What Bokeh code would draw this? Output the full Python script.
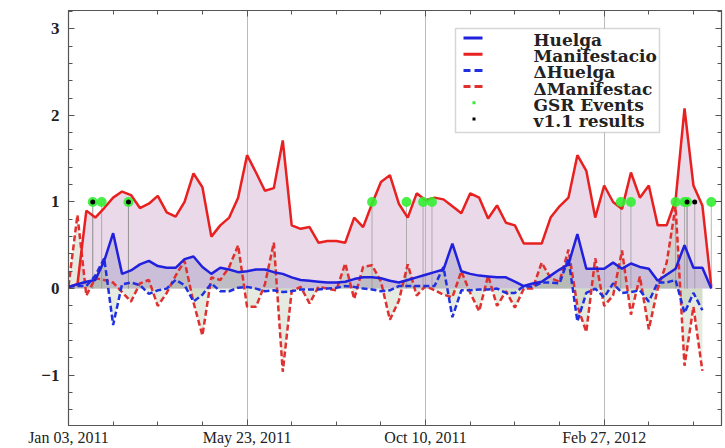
import numpy as np
import pandas as pd
from bokeh.plotting import figure
from bokeh.models import (Range1d, FixedTicker, DatetimeTickFormatter, DatetimeAxis,
                          LinearAxis, ColumnDataSource, CustomLabelingPolicy,
                          BoxAnnotation, Label)
from bokeh.embed import file_html
from bokeh.resources import INLINE

# Weekly intensity of "Huelga" and "Manifestacion" tweets (Jan 2011 - May 2012)
huelga = [0.02, 0.05, 0.08, 0.10, 0.32, 0.64, 0.17, 0.21, 0.28, 0.32,
          0.26, 0.24, 0.24, 0.34, 0.37, 0.25, 0.17, 0.24, 0.22, 0.19,
          0.20, 0.22, 0.22, 0.19, 0.17, 0.13, 0.10, 0.09, 0.08, 0.07,
          0.07, 0.08, 0.11, 0.13, 0.13, 0.12, 0.09, 0.07, 0.10, 0.13,
          0.16, 0.19, 0.22, 0.52, 0.20, 0.17, 0.15, 0.14, 0.13, 0.13,
          0.08, 0.03, 0.06, 0.08, 0.15, 0.22, 0.28, 0.63, 0.23, 0.23,
          0.23, 0.30, 0.23, 0.29, 0.25, 0.23, 0.09, 0.16, 0.23, 0.50,
          0.24, 0.24, 0.00]
manifestacion = [0.02, 0.05, 0.90, 0.82, 0.93, 1.05, 1.12, 1.08, 0.93, 0.98,
                 1.07, 0.88, 0.83, 1.00, 1.33, 1.17, 0.60, 0.73, 0.82, 1.05,
                 1.54, 1.34, 1.13, 1.16, 1.71, 0.73, 0.69, 0.71, 0.53, 0.55,
                 0.55, 0.53, 0.82, 0.71, 0.98, 1.23, 1.31, 0.98, 0.82, 1.10,
                 1.02, 1.05, 1.03, 0.95, 0.87, 1.10, 1.05, 0.81, 0.96, 0.76,
                 0.73, 0.52, 0.52, 0.52, 0.82, 0.95, 1.05, 1.54, 1.36, 0.82,
                 1.19, 1.00, 0.92, 1.34, 1.05, 1.19, 0.73, 0.73, 1.02, 2.08,
                 1.19, 0.96, 0.02]
# Week-over-week changes
d_huelga = [0.02, 0.03, 0.03, 0.15, 0.35, -0.42, 0.05, 0.07, 0.04, -0.06,
            -0.02, 0.00, 0.10, 0.04, -0.15, -0.07, 0.06, -0.03, -0.03, 0.01,
            0.02, 0.00, -0.03, -0.02, -0.04, -0.03, -0.01, -0.01, -0.01, 0.00,
            0.01, 0.03, 0.02, 0.00, -0.01, -0.03, -0.02, 0.03, 0.03, 0.03,
            0.03, 0.03, 0.25, -0.33, -0.02, -0.02, -0.01, -0.01, 0.00, -0.05,
            -0.05, 0.03, 0.02, 0.07, 0.07, 0.06, 0.35, -0.38, -0.05, 0.00,
            -0.10, 0.06, -0.05, -0.04, -0.02, -0.15, 0.07, 0.07, 0.10, -0.28,
            -0.05, -0.25]
d_manifestacion = [0.03, 0.85, -0.08, 0.12, 0.10, 0.07, -0.04, -0.15, 0.06, 0.10,
                   -0.20, -0.05, 0.15, 0.32, -0.16, -0.54, 0.13, 0.10, 0.25, 0.50,
                   -0.21, -0.21, 0.05, 0.53, -0.96, -0.03, 0.02, -0.17, 0.02, 0.00,
                   -0.02, 0.29, -0.12, 0.25, 0.27, 0.08, -0.36, -0.14, 0.28, -0.08,
                   0.03, -0.02, -0.07, -0.10, 0.20, -0.05, -0.26, 0.15, -0.20, -0.03,
                   -0.22, 0.00, 0.00, 0.30, 0.12, 0.08, 0.45, -0.20, -0.50, 0.35,
                   -0.20, -0.08, 0.44, -0.30, 0.14, -0.47, 0.00, 0.30, 0.95, -0.89,
                   -0.21, -0.95]

gsr_events = ["2011-01-22", "2011-01-29", "2011-02-19", "2011-08-29", "2011-09-25",
              "2011-10-08", "2011-10-15", "2012-03-11", "2012-03-19", "2012-04-23",
              "2012-04-30", "2012-05-02", "2012-05-21"]
v11_results = ["2011-01-22", "2011-02-19", "2012-05-02", "2012-05-08"]
major_dates = ["2011-01-03", "2011-05-23", "2011-10-10", "2012-02-27"]
event_level = 1.0

legend_labels = ["Huelga", "Manifestacio", "\u0394Huelga", "\u0394Manifestac",
                 "GSR Events", "v1.1 results"]

C_H, C_M, C_DH, C_DM = "#2020dd", "#e82020", "#2030e0", "#e03030"
C_GSR, C_V11 = "#33ee33", "black"


def ms(d):
    return pd.Timestamp(d).value / 1e6


weeks = pd.date_range("2011-01-03", periods=len(manifestacion), freq="7D")
dweeks = weeks[:len(d_manifestacion)]

src = ColumnDataSource(dict(x=weeks, h=huelga, m=manifestacion, zero=[0.0] * len(weeks)))
dsrc = ColumnDataSource(dict(x=dweeks, dh=d_huelga, dm=d_manifestacion, zero=[0.0] * len(dweeks)))
gsrc = ColumnDataSource(dict(x=pd.to_datetime(gsr_events), y=[event_level] * len(gsr_events),
                             y0=[0.0] * len(gsr_events)))
vsrc = ColumnDataSource(dict(x=pd.to_datetime(v11_results), y=[event_level] * len(v11_results),
                             y0=[0.0] * len(v11_results)))

x_start, x_end = ms("2011-01-03"), ms("2012-05-29")
p = figure(width=725, height=448, x_axis_type="datetime", output_backend="svg",
           toolbar_location=None, x_range=Range1d(x_start, x_end),
           y_range=Range1d(-1.58, 3.21),
           min_border_left=68, min_border_right=2, min_border_top=10, min_border_bottom=23)
p.background_fill_color = "white"
p.border_fill_color = "white"
p.outline_line_color = "#555555"
p.outline_line_width = 1.2

minor_x = [ms(d) for d in pd.date_range("2011-01-03", "2012-05-29", freq="35D")]
xticker = FixedTicker(ticks=[ms(d) for d in major_dates], minor_ticks=minor_x)
yticker = FixedTicker(ticks=[-1, 0, 1, 2, 3],
                      minor_ticks=[round(v, 1) for v in np.arange(-1.4, 3.21, 0.2)])

fmt = "%b %d, %Y"
p.xaxis.ticker = xticker
p.xaxis.formatter = DatetimeTickFormatter(days=fmt, months=fmt, years=fmt, hours=fmt)
p.yaxis.ticker = yticker
p.yaxis.major_label_overrides = {-1: "\u22121"}

tick_style = dict(major_tick_in=6, major_tick_out=0, minor_tick_in=4, minor_tick_out=0,
                  axis_line_color="#555555", major_tick_line_color="#555555",
                  minor_tick_line_color="#555555")
for ax in [p.xaxis[0], p.yaxis[0]]:
    for k, v in tick_style.items():
        setattr(ax, k, v)
    ax.major_label_text_font = "Liberation Serif"
    ax.major_label_text_color = "#222222"

p.xaxis.major_label_text_font_size = "16px"
p.xaxis.major_label_standoff = 3
p.yaxis.major_label_text_font_size = "17px"
p.yaxis.major_label_text_font_style = "bold"
p.yaxis.major_label_standoff = 9

# mirrored tick marks on the top and right edges, without labels
no_labels = CustomLabelingPolicy(code="""
    for (const i of indices)
        indices.unset(i)
    return indices
""")
top = DatetimeAxis(ticker=xticker, major_label_policy=no_labels, major_label_standoff=0,
                   major_label_text_font_size="1px", **tick_style)
right = LinearAxis(ticker=yticker, major_label_policy=no_labels, major_label_standoff=0,
                   major_label_text_font_size="1px", **tick_style)
p.add_layout(top, "above")
p.add_layout(right, "right")

p.xgrid.ticker = xticker
p.xgrid.grid_line_color = "#bbbbbb"
p.xgrid.grid_line_width = 1
p.ygrid.grid_line_color = None

# shaded areas between each series and zero
p.varea(x="x", y1="zero", y2="m", source=src, fill_color="#c8a0c8", fill_alpha=0.4)
p.varea(x="x", y1="zero", y2="h", source=src, fill_color="#6060a0", fill_alpha=0.22)
p.varea(x="x", y1="zero", y2="dm", source=dsrc, fill_color="#a0b890", fill_alpha=0.28)
p.varea(x="x", y1="zero", y2="dh", source=dsrc, fill_color="#a0b890", fill_alpha=0.28)

# stems under event markers
p.segment(x0="x", y0="y0", x1="x", y1="y", source=gsrc, line_color="#888888",
          line_alpha=0.6, line_width=1)
p.segment(x0="x", y0="y0", x1="x", y1="y", source=vsrc, line_color="#888888",
          line_alpha=0.6, line_width=1)

p.line(x="x", y="dm", source=dsrc, line_color=C_DM, line_width=2.5, line_dash="6 3")
p.line(x="x", y="dh", source=dsrc, line_color=C_DH, line_width=2.5, line_dash="6 3")
p.line(x="x", y="m", source=src, line_color=C_M, line_width=2.5)
p.line(x="x", y="h", source=src, line_color=C_H, line_width=2.5)

p.scatter(x="x", y="y", source=gsrc, size=10, fill_color=C_GSR, line_color=None, fill_alpha=0.9)
p.scatter(x="x", y="y", source=vsrc, size=5, fill_color=C_V11, line_color=None)

# legend box (screen units, measured from the frame's bottom-left corner)
LX, LTOP, LW, LH = 387, 397, 204, 104
ROW0, ROW = 9.5, 16.2          # first swatch centre below the box top, row pitch
p.add_layout(BoxAnnotation(left=LX, right=LX + LW, top=LTOP, bottom=LTOP - LH,
                           left_units="screen", right_units="screen",
                           top_units="screen", bottom_units="screen",
                           fill_color="white", fill_alpha=1.0,
                           line_color="#777777", line_width=1.5))


def swatch(x0, x1, yc, color, h=3):
    p.add_layout(BoxAnnotation(left=x0, right=x1, top=yc + h / 2, bottom=yc - h / 2,
                               left_units="screen", right_units="screen",
                               top_units="screen", bottom_units="screen",
                               fill_color=color, fill_alpha=1.0, line_color=None))


sw_colors = [C_H, C_M, C_DH, C_DM, C_GSR, C_V11]
for k, (lab, col) in enumerate(zip(legend_labels, sw_colors)):
    yc = LTOP - ROW0 - ROW * k
    if k < 2:
        swatch(LX + 8, LX + 27, yc, col)
    elif k < 4:
        swatch(LX + 8, LX + 15, yc, col)
        swatch(LX + 19, LX + 27, yc, col)
    else:
        swatch(LX + 17, LX + 20, yc, col)
    p.add_layout(Label(x=LX + 78, y=yc - 2, x_units="screen", y_units="screen", text=lab,
                       text_font="DejaVu Serif", text_font_style="bold",
                       text_font_size="17px", text_color="#222222",
                       text_baseline="alphabetic", text_align="left"))

open("out.html", "w").write(file_html(p, INLINE))
